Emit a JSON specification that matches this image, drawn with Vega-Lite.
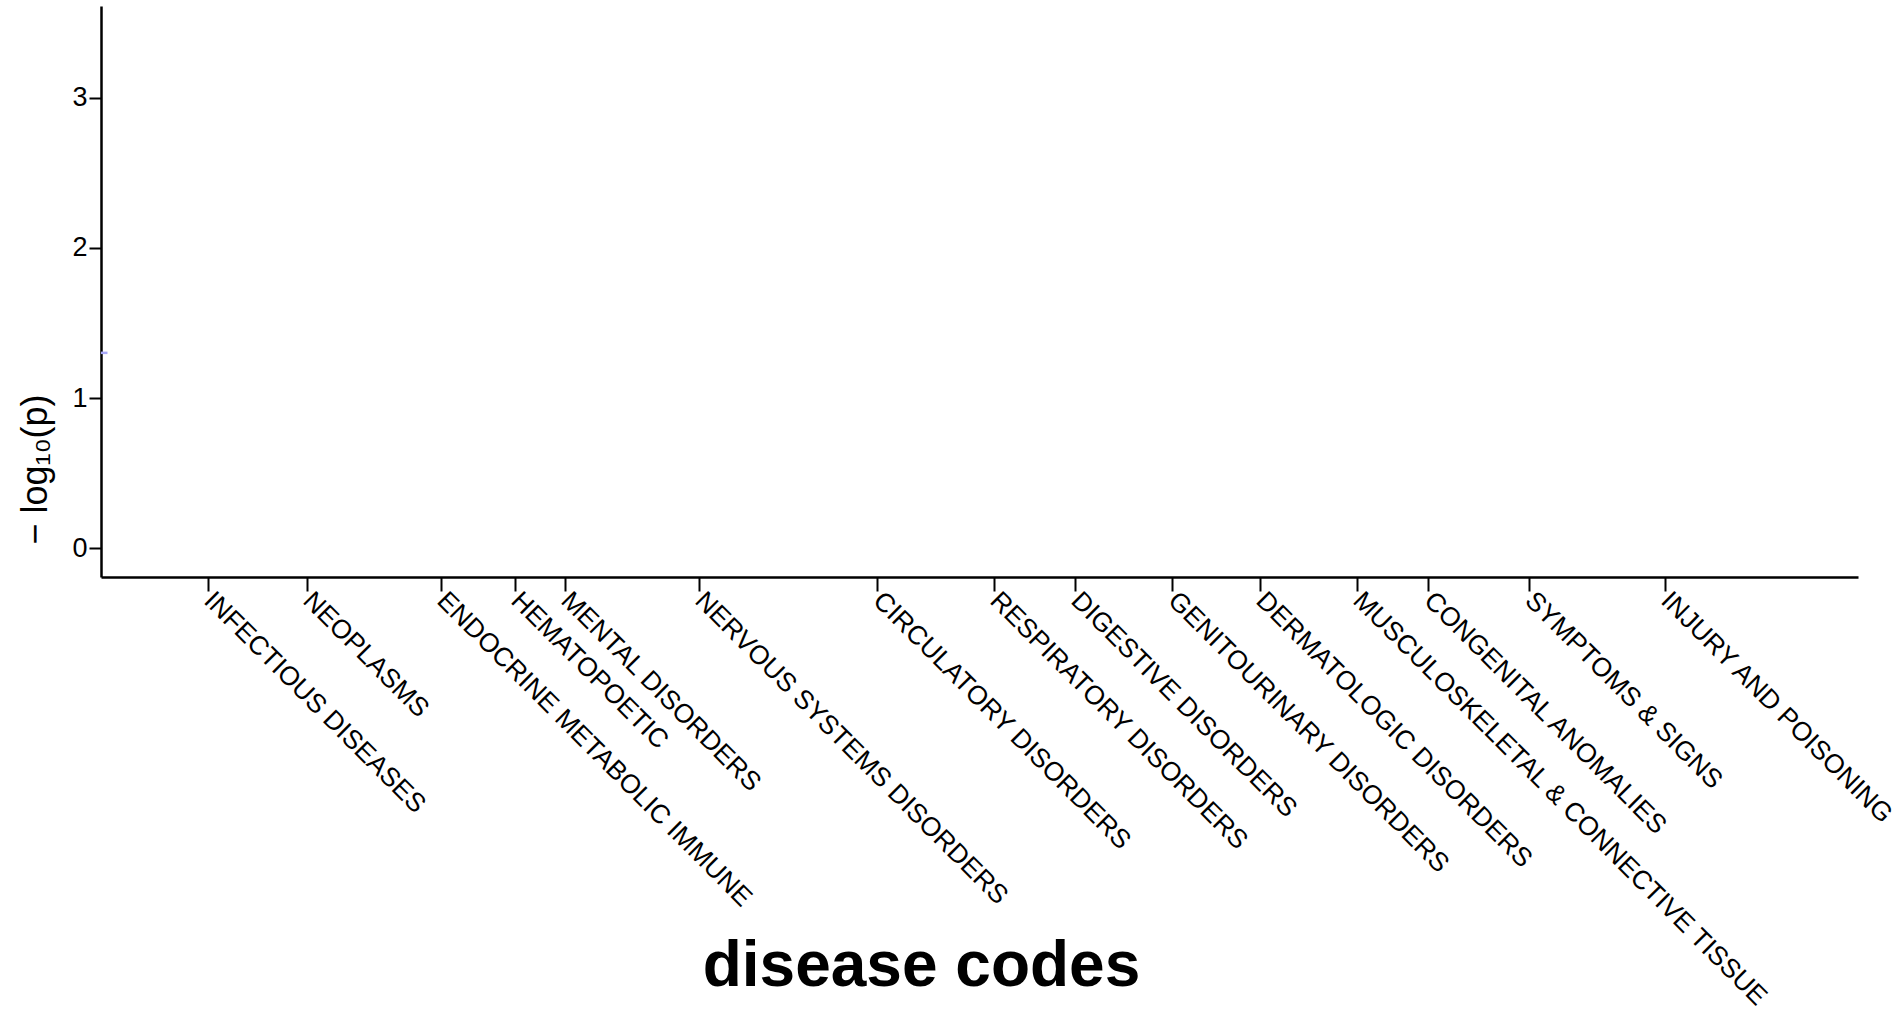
{
  "$schema": "https://vega.github.io/schema/vega-lite/v6.json",
  "autosize": "none",
  "width": 1757,
  "height": 571,
  "padding": {"left": 101, "top": 6, "right": 37, "bottom": 435},
  "background": "white",
  "config": {
    "view": {"stroke": null},
    "font": "Liberation Sans",
    "axis": {
      "grid": false,
      "domainColor": "black",
      "domainWidth": 2.5,
      "tickColor": "black",
      "tickWidth": 2,
      "labelColor": "black",
      "titleColor": "black",
      "labelFont": "Liberation Sans",
      "titleFont": "Liberation Sans"
    }
  },
  "datasets": {
    "threshold": [
      {"p": 0.05, "neglog10p": 1.30103, "start": 0, "end": 6.5}
    ]
  },
  "data": {"name": "threshold"},
  "mark": {"type": "rule", "color": "#a8a8f8", "strokeWidth": 2.5},
  "encoding": {
    "x": {
      "field": "start",
      "type": "quantitative",
      "scale": {"domain": [0, 1757], "nice": false, "zero": false},
      "axis": {
        "title": "disease codes",
        "titleFontSize": 64,
        "titleFontWeight": "bold",
        "titleAlign": "center",
        "titleBaseline": "alphabetic",
        "titleX": 820,
        "titleY": 408,
        "values": [107, 206, 340, 414, 464, 598, 776, 893, 974, 1071, 1159, 1256, 1327, 1428, 1564],
        "labelExpr": "['INFECTIOUS DISEASES','NEOPLASMS','ENDOCRINE METABOLIC IMMUNE','HEMATOPOETIC','MENTAL DISORDERS','NERVOUS SYSTEMS DISORDERS','CIRCULATORY DISORDERS','RESPIRATORY DISORDERS','DIGESTIVE DISORDERS','GENITOURINARY DISORDERS','DERMATOLOGIC DISORDERS','MUSCULOSKELETAL & CONNECTIVE TISSUE','CONGENITAL ANOMALIES','SYMPTOMS & SIGNS','INJURY AND POISONING'][indexof([107, 206, 340, 414, 464, 598, 776, 893, 974, 1071, 1159, 1256, 1327, 1428, 1564], datum.value)]",
        "labelAngle": 45,
        "labelAlign": "left",
        "labelBaseline": "middle",
        "labelFontSize": 26.5,
        "labelPadding": 5,
        "labelLimit": 0,
        "labelOverlap": false,
        "labelFlush": false,
        "labelBound": false,
        "tickSize": 14
      }
    },
    "x2": {"field": "end"},
    "y": {
      "field": "neglog10p",
      "type": "quantitative",
      "scale": {"domain": [-0.193, 3.613], "nice": false, "zero": false},
      "axis": {
        "title": "− log₁₀(p)",
        "titleFontSize": 36,
        "titleFontWeight": "normal",
        "titleAngle": -90,
        "titleAlign": "center",
        "titleBaseline": "middle",
        "titleX": -66,
        "titleY": 463,
        "values": [0, 1, 2, 3],
        "labelFontSize": 27,
        "labelPadding": 2,
        "tickSize": 12
      }
    }
  }
}
